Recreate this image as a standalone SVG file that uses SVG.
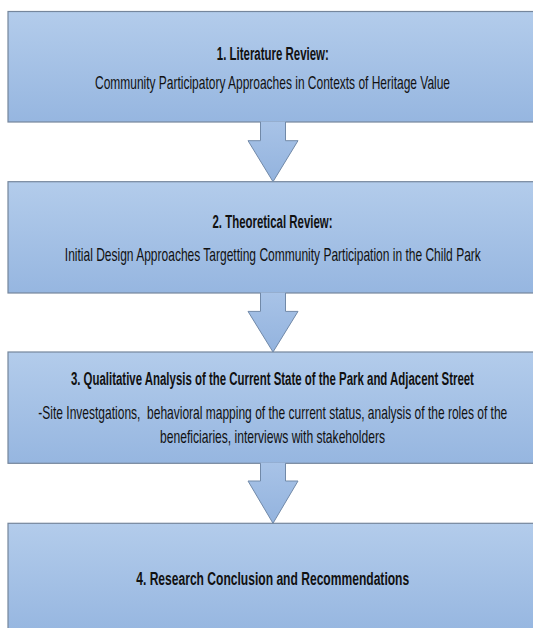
<svg xmlns="http://www.w3.org/2000/svg" width="533" height="628" viewBox="0 0 533 628">
  <defs>
    <linearGradient id="boxFill" x1="0" y1="0" x2="0" y2="1">
      <stop offset="0" stop-color="#b3cceb"/>
      <stop offset="1" stop-color="#96b6e0"/>
    </linearGradient>
    <linearGradient id="arrowFill" x1="0" y1="0" x2="0" y2="1">
      <stop offset="0" stop-color="#a8c3e7"/>
      <stop offset="1" stop-color="#93b3de"/>
    </linearGradient>
    <style>
      .box { fill: url(#boxFill); stroke: #75869c; stroke-width: 1.2; }
      .afill { fill: url(#arrowFill); stroke: none; }
      .aline { fill: none; stroke: #7189a8; stroke-width: 1; stroke-linejoin: miter; }
      .t { font-family: "Liberation Sans", Arial, sans-serif; font-size: 17.5px; fill: #111111; text-anchor: middle; }
      .b { font-weight: bold; }
    </style>
  </defs>
  <rect width="533" height="628" fill="#ffffff"/>

  <g id="node1">
    <rect class="box" x="8" y="11.5" width="535" height="110.5"/>
    <text class="t b" transform="translate(272.8,59.5) scale(0.6,1)" x="0" y="0" textLength="186.7" lengthAdjust="spacingAndGlyphs">1. Literature Review:</text>
    <text class="t" transform="translate(272.5,88.5) scale(0.63,1)" x="0" y="0" textLength="563.5" lengthAdjust="spacingAndGlyphs">Community Participatory Approaches in Contexts of Heritage Value</text>
  </g>

  <g id="node2">
    <rect class="box" x="8" y="181.7" width="535" height="111.3"/>
    <text class="t b" transform="translate(272.5,228) scale(0.6,1)" x="0" y="0" textLength="200" lengthAdjust="spacingAndGlyphs">2. Theoretical Review:</text>
    <text class="t" transform="translate(272.8,260.5) scale(0.63,1)" x="0" y="0" textLength="660.3" lengthAdjust="spacingAndGlyphs">Initial Design Approaches Targetting Community Participation in the Child Park</text>
  </g>

  <g id="node3">
    <rect class="box" x="8" y="352" width="535" height="111.3"/>
    <text class="t b" transform="translate(272.4,385) scale(0.6,1)" x="0" y="0" textLength="671.7" lengthAdjust="spacingAndGlyphs">3. Qualitative Analysis of the Current State of the Park and Adjacent Street</text>
    <text class="t" transform="translate(272.8,419) scale(0.63,1)" x="0" y="0" textLength="744.4" lengthAdjust="spacingAndGlyphs" xml:space="preserve">-Site Investgations,  behavioral mapping of the current status, analysis of the roles of the</text>
    <text class="t" transform="translate(272.5,443) scale(0.63,1)" x="0" y="0" textLength="357.1" lengthAdjust="spacingAndGlyphs">beneficiaries, interviews with stakeholders</text>
  </g>

  <g id="node4">
    <rect class="box" x="8" y="523.3" width="535" height="110"/>
    <text class="t b" transform="translate(272.7,585) scale(0.6,1)" x="0" y="0" textLength="455" lengthAdjust="spacingAndGlyphs">4. Research Conclusion and Recommendations</text>
  </g>

  <g id="connectors">
    <g id="arrow1">
      <polygon class="afill" points="260.5,121.4 285.5,121.4 285.5,140.7 298,140.7 273,181.7 248,140.7 260.5,140.7"/>
      <polyline class="aline" points="260.5,122 260.5,140.7 248,140.7 273,181.7 298,140.7 285.5,140.7 285.5,122"/>
    </g>
    <g id="arrow2">
      <polygon class="afill" points="260.5,292.4 285.5,292.4 285.5,311.4 298,311.4 273,352 248,311.4 260.5,311.4"/>
      <polyline class="aline" points="260.5,293 260.5,311.4 248,311.4 273,352 298,311.4 285.5,311.4 285.5,293"/>
    </g>
    <g id="arrow3">
      <polygon class="afill" points="260.5,462.7 285.5,462.7 285.5,481 298,481 273,523.3 248,481 260.5,481"/>
      <polyline class="aline" points="260.5,463.3 260.5,481 248,481 273,523.3 298,481 285.5,481 285.5,463.3"/>
    </g>
  </g>
</svg>
